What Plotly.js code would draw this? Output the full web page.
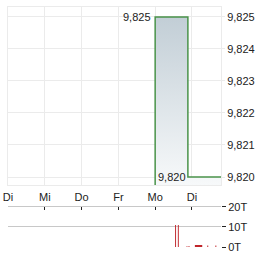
<!DOCTYPE html>
<html><head><meta charset="utf-8">
<script src="https://cdn.plot.ly/plotly-3.0.1.min.js"></script>
<style>html,body{margin:0;padding:0;background:#fff;}#c{width:264px;height:255px;}</style>
</head><body><div id="c"></div>
<script>
var dayLabels = ['Di','Mi','Do','Fr','Mo','Di'];
var dayPos = [0,1,2,3,4,5];
var priceX = [4, 4, 4.89, 4.89, 5.79];
var priceY = [9.8195, 9.825, 9.825, 9.820, 9.820];
var volX = [4.555, 4.63, 4.865, 4.92, 5.18, 5.43, 5.65];
var volY = [11, 11, 0.4, 0.5, 1, 0.7, 0.7];
var volW = [0.026, 0.026, 0.026, 0.026, 0.2, 0.026, 0.026];
var priceTicks = [9.820, 9.821, 9.822, 9.823, 9.824, 9.825];
var volTicks = [0, 10, 20];
var volTickText = ['0T','10T','20T'];
var xRange = [0, 5.79];
var yMin = 9.81975, yMax = 9.82531;

var font = {family:'Liberation Sans, Arial, sans-serif', size:11, color:'#222'};
var hi = Math.max.apply(null, priceY), lo = Math.min.apply(null, priceY.slice(1));

var traces = [{
  x: priceX, y: priceY, type:'scatter', mode:'lines',
  line:{color:'#4a934a', width:1.5, shape:'linear'},
  fill:'tozeroy',
  fillgradient:{type:'vertical', start:yMin, stop:9.825,
    colorscale:[[0,'#f7f9fa'],[1,'#c2ced6']]},
  hoverinfo:'skip', xaxis:'x', yaxis:'y'
},{
  x: volX, y: volY, type:'bar', width:volW,
  marker:{color:'#c0262b', line:{width:0}},
  xaxis:'x2', yaxis:'y2', hoverinfo:'skip'
}];

var layout = {
  width:264, height:255,
  margin:{l:8, r:43, t:7, b:8},
  paper_bgcolor:'#fff', plot_bgcolor:'#fff',
  separators:',.',
  showlegend:false,
  font: font,
  xaxis:{domain:[0,1], anchor:'y', range:xRange, tickvals:dayPos, ticktext:dayLabels,
    showgrid:true, gridcolor:'#ebebeb', gridwidth:1, zeroline:false, ticks:'',
    showline:true, mirror:true, linecolor:'#ebebeb', tickfont:font, ticklabelstandoff:2},
  yaxis:{domain:[0.2583,1], anchor:'x', side:'right', range:[yMin,yMax], tickvals:priceTicks,
    tickformat:'.3f', showgrid:true, gridcolor:'#ebebeb', zeroline:false,
    ticks:'outside', ticklen:3, tickcolor:'#ebebeb', showline:true, mirror:true, linecolor:'#ebebeb', tickfont:font},
  xaxis2:{domain:[0,1], anchor:'y2', range:xRange, tickvals:dayPos, showticklabels:false,
    side:'top', showline:true, linecolor:'#c8c8c8', ticks:'inside', ticklen:3, tickcolor:'#222',
    showgrid:false, zeroline:false},
  yaxis2:{domain:[0,0.1667], anchor:'x2', side:'right', range:[0,20], tickvals:volTicks, ticktext:volTickText,
    showgrid:true, gridcolor:'#c8c8c8', zeroline:false, ticks:'outside', ticklen:4, tickcolor:'#222',
    tickfont:font},
  annotations:[
    {x:4, y:hi, xref:'x', yref:'y', text:hi.toFixed(3).replace('.',','), showarrow:false,
     xanchor:'right', yanchor:'middle', xshift:-2, font:font},
    {x:4, y:lo, xref:'x', yref:'y', text:lo.toFixed(3).replace('.',','), showarrow:false,
     xanchor:'left', yanchor:'middle', xshift:1, font:font}
  ]
};
Plotly.newPlot('c', traces, layout, {staticPlot:true, displayModeBar:false});
</script></body></html>
